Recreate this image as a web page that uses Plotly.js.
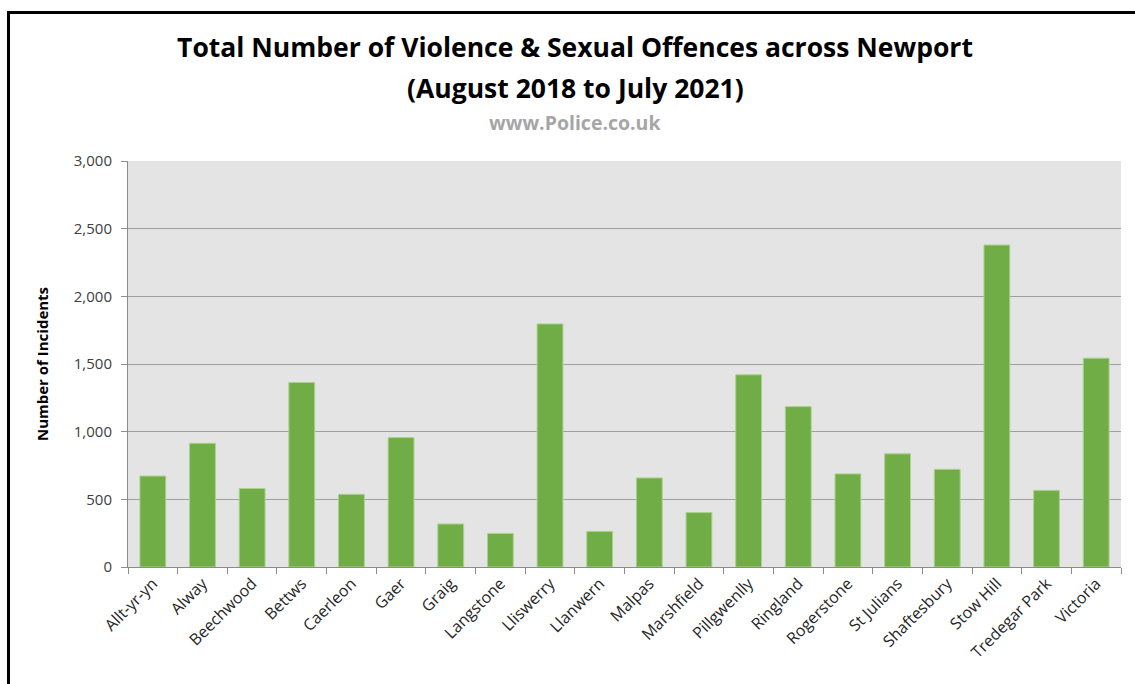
<!DOCTYPE html>
<html>
<head>
<meta charset="utf-8">
<script src="https://cdn.plot.ly/plotly-3.0.1.min.js"></script>
<style>
  html, body { margin: 0; padding: 0; background: #ffffff; }
  #chart { width: 1135px; height: 684px; }
  #frame { position: absolute; left: 7px; top: 11px; width: 1140px; height: 700px;
           border-left: 3px solid #000; border-top: 3px solid #000; pointer-events: none; }
</style>
</head>
<body>
<div id="chart"></div>
<div id="frame"></div>
<script>
const wards = ["Allt-yr-yn", "Alway", "Beechwood", "Bettws", "Caerleon", "Gaer", "Graig",
  "Langstone", "Lliswerry", "Llanwern", "Malpas", "Marshfield", "Pillgwenlly", "Ringland",
  "Rogerstone", "St Julians", "Shaftesbury", "Stow Hill", "Tredegar Park", "Victoria"];
const incidents = [672, 914, 580, 1363, 537, 956, 318, 248, 1796, 263, 658, 402, 1420,
  1185, 688, 836, 722, 2379, 566, 1543];
const yTicks = [0, 500, 1000, 1500, 2000, 2500, 3000];

const font = "'Open Sans', Lato, sans-serif";
const titleX = (575 - 128) / 993;

const trace = {
  type: "bar",
  x: wards,
  y: incidents,
  marker: { color: "#70ad47", line: { color: "#a9d18e", width: 1 } },
  hoverinfo: "x+y"
};

const layout = {
  width: 1135,
  height: 684,
  margin: { l: 128, r: 14, t: 161, b: 117 },
  paper_bgcolor: "#ffffff",
  plot_bgcolor: "#e4e4e4",
  bargap: 0.48,
  showlegend: false,
  font: { family: font, color: "#404040" },
  title: {
    text: "<b>Total Number of Violence &amp; Sexual Offences across Newport</b>",
    font: { family: font, size: 26.5, color: "#000000" },
    x: 575 / 1135, xref: "container", xanchor: "center",
    y: 1 - 48 / 684, yref: "container", yanchor: "middle"
  },
  annotations: [
    {
      text: "<b>(August 2018 to July 2021)</b>",
      xref: "paper", yref: "paper", x: titleX, y: 1, yshift: 73,
      xanchor: "center", yanchor: "middle", showarrow: false,
      font: { family: font, size: 26.5, color: "#000000" }
    },
    {
      text: "<b>www.Police.co.uk</b>",
      xref: "paper", yref: "paper", x: titleX, y: 1, yshift: 39,
      xanchor: "center", yanchor: "middle", showarrow: false,
      font: { family: font, size: 19.5, color: "#a6a6a6" }
    }
  ],
  xaxis: {
    type: "category",
    tickangle: -45,
    tickson: "boundaries",
    ticks: "outside",
    ticklen: 6,
    tickcolor: "#8c8c8c",
    showline: true,
    linecolor: "#8c8c8c",
    linewidth: 1,
    showgrid: false,
    tickfont: { family: font, size: 16, color: "#262626" }
  },
  yaxis: {
    range: [0, 3000],
    tickvals: yTicks,
    tickformat: ",",
    ticks: "outside",
    ticklen: 6,
    tickcolor: "#8c8c8c",
    ticklabelstandoff: 6,
    showline: true,
    linecolor: "#8c8c8c",
    linewidth: 1,
    gridcolor: "#a0a0a0",
    gridwidth: 1,
    zeroline: false,
    tickfont: { family: font, size: 15, color: "#404040" },
    title: {
      text: "<b>Number of Incidents</b>",
      font: { family: font, size: 15, color: "#000000" },
      standoff: 21
    }
  }
};

Plotly.newPlot("chart", [trace], layout, { displayModeBar: false, staticPlot: true });
</script>
</body>
</html>
